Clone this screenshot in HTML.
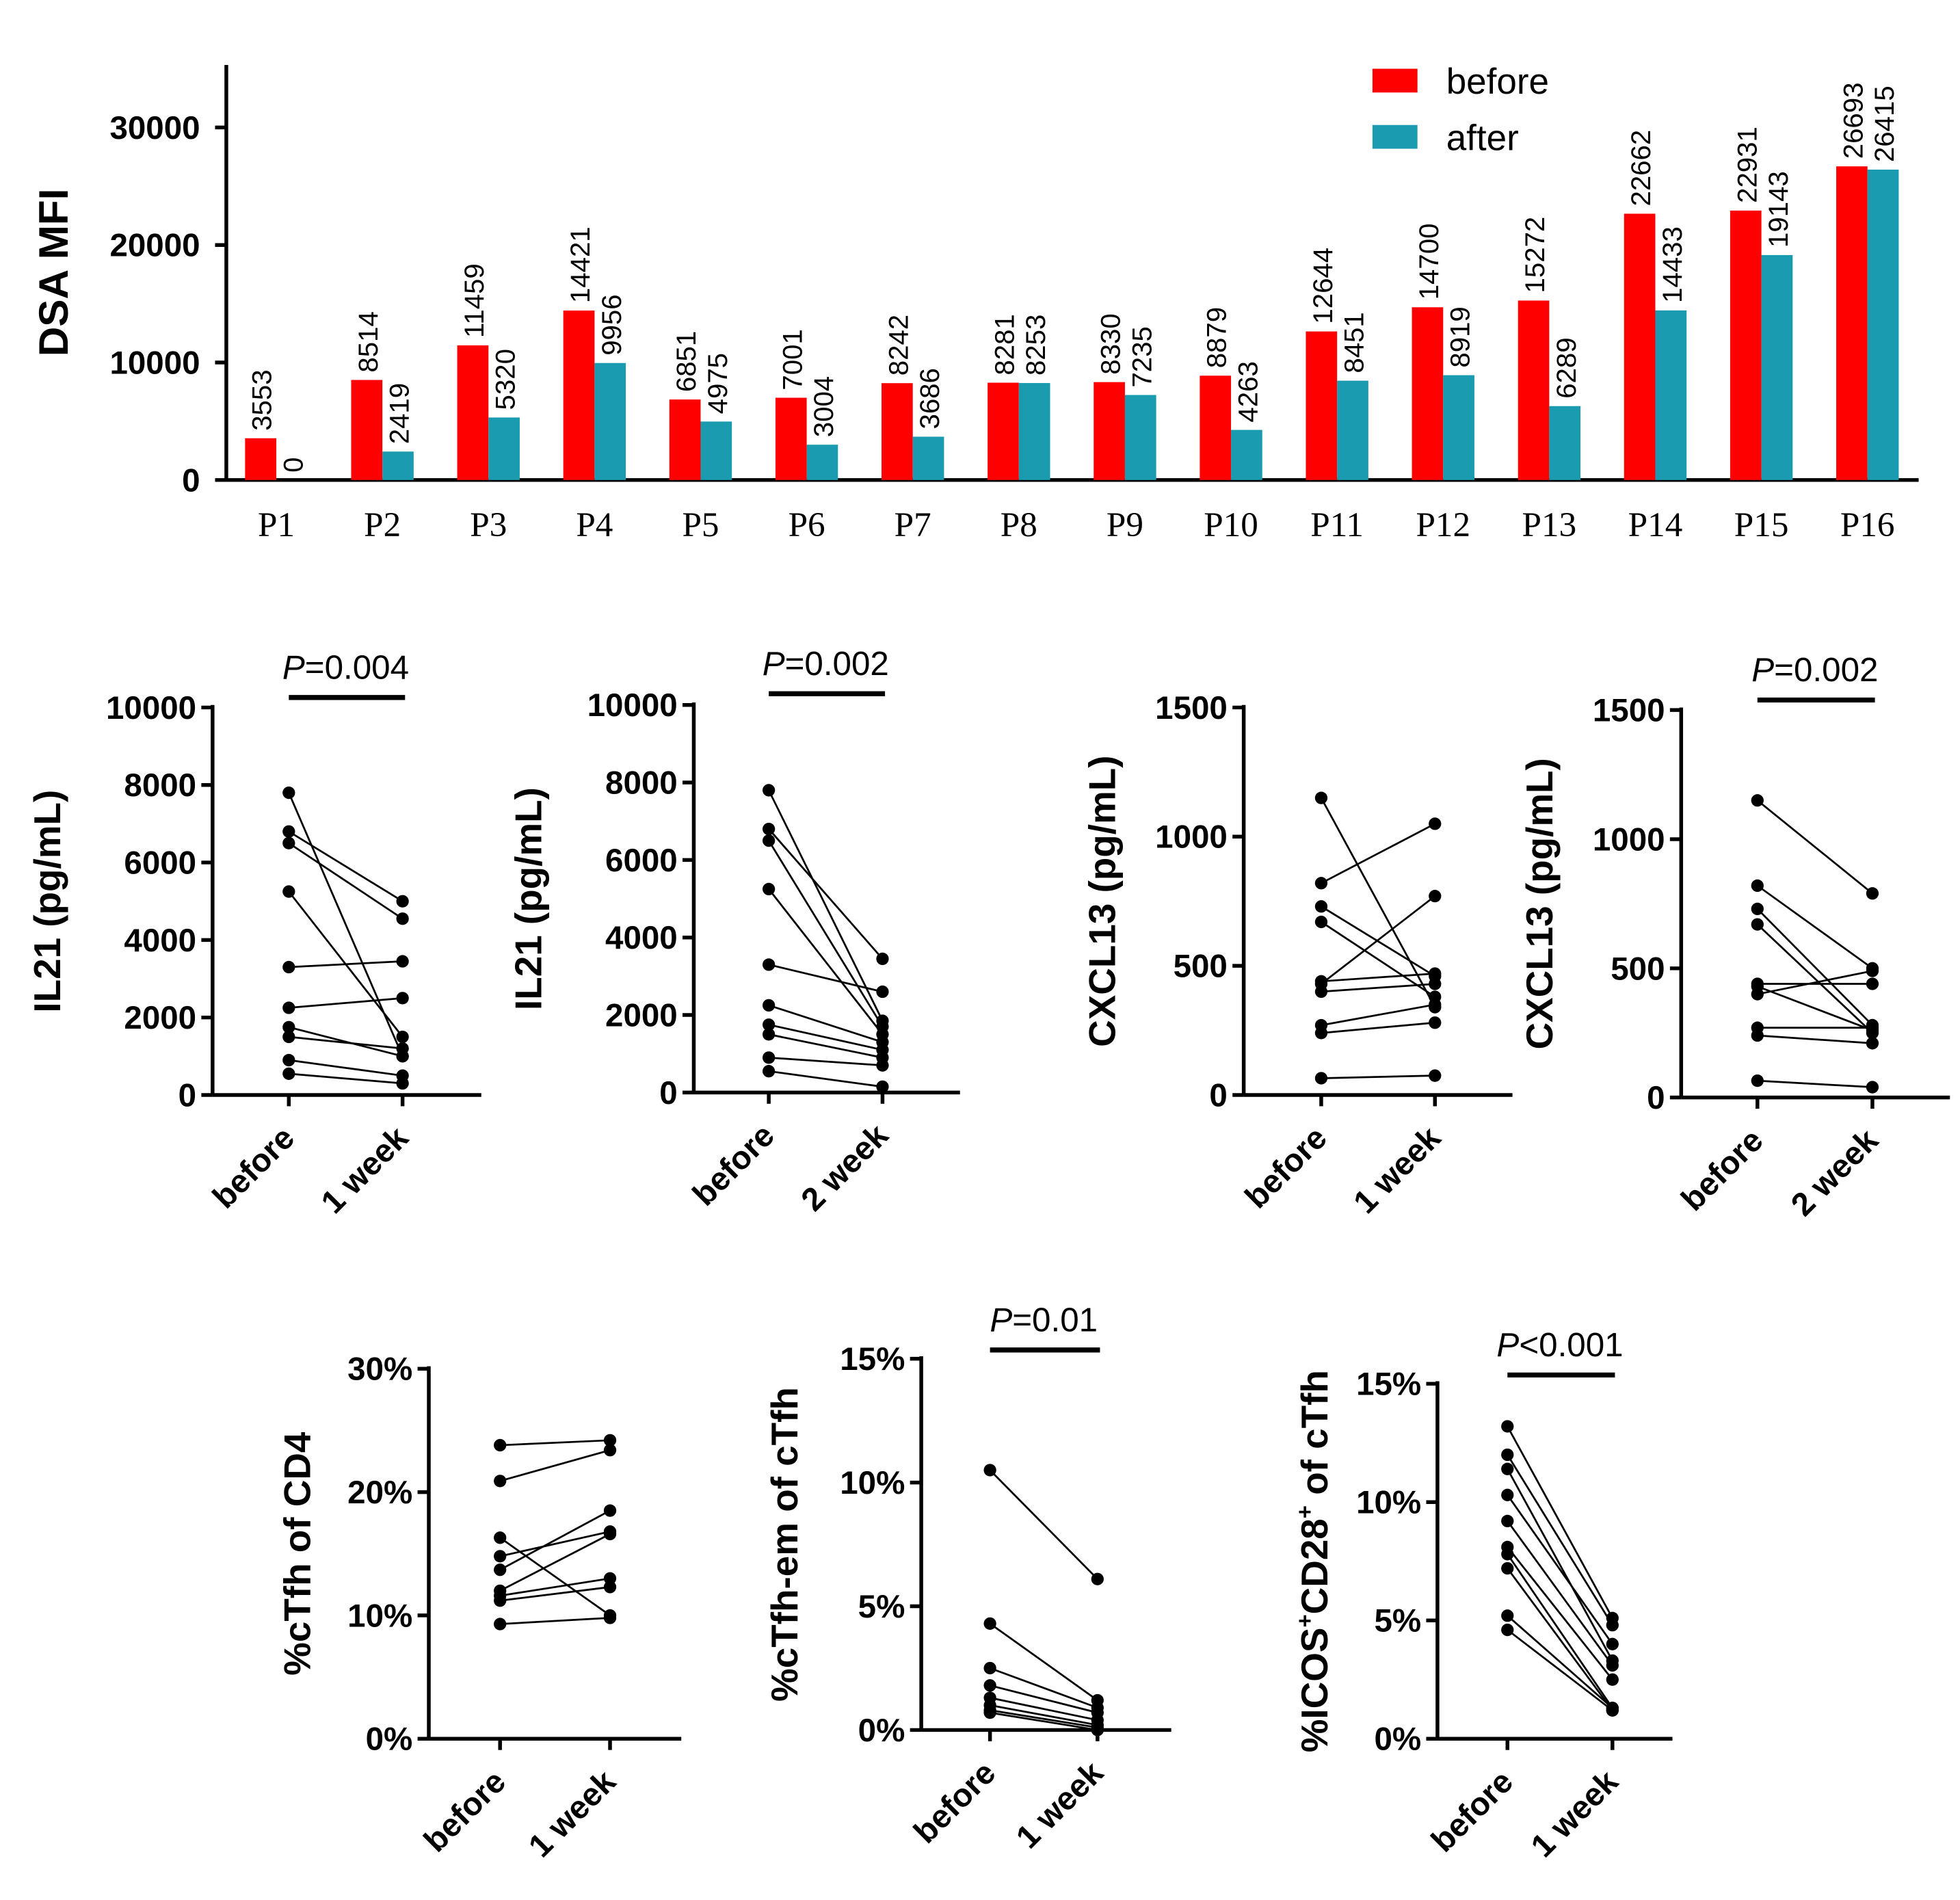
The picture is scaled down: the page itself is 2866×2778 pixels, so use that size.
<!DOCTYPE html>
<html><head><meta charset="utf-8"><style>
html,body{margin:0;padding:0;background:#fff}
svg{display:block}
text{font-family:"Liberation Sans",Arial,sans-serif}
</style></head><body>
<svg id="c" width="2866" height="2778" viewBox="0 0 1568 1520" xmlns="http://www.w3.org/2000/svg"></svg>
<script>
// ---- Top bar chart data ----
const patients = ["P1","P2","P3","P4","P5","P6","P7","P8","P9","P10","P11","P12","P13","P14","P15","P16"];
const beforeMFI = [3553,8514,11459,14421,6851,7001,8242,8281,8330,8879,12644,14700,15272,22662,22931,26693];
const afterMFI = [0,2419,5320,9956,4975,3004,3686,8253,7235,4263,8451,8919,6289,14433,19143,26415];
const mfiTicks = [0,10000,20000,30000];

// ---- Paired panels data ----
const il21Before = [7800,6800,6500,5250,3300,2250,1750,1500,900,550];
const il21After1w = [1000,5000,4550,1500,3450,2500,1000,1200,500,300];
const il21After2w = [1850,3450,1700,1500,2600,1300,1100,900,700,150];
const cxclBefore = [1150,820,730,670,440,430,400,270,240,65];
const cxclAfter1w = [340,1050,460,380,470,770,430,350,280,75];
const cxclAfter2w = [790,500,280,250,440,260,490,270,210,40];
const tfhBefore = [23.8,20.9,16.3,14.8,13.7,12.0,11.6,11.2,9.3];
const tfhAfter = [24.2,23.4,10.0,16.8,18.5,16.6,13.0,12.3,9.8];
const emBefore = [10.5,4.3,2.5,1.8,1.3,1.0,0.8,0.7];
const emAfter = [6.1,1.2,0.9,0.7,0.4,0.2,0.1,0.0];
const icosBefore = [13.2,12.0,11.4,10.3,9.2,8.1,7.8,7.2,5.2,4.6];
const icosAfter = [5.1,4.8,3.3,4.0,3.1,2.5,1.3,1.2,1.3,1.2];

const NS="http://www.w3.org/2000/svg";
const svg=document.getElementById('c');
function el(tag,attrs,parent){const e=document.createElementNS(NS,tag);for(const k in attrs)e.setAttribute(k,attrs[k]);(parent||svg).appendChild(e);return e;}
function txt(s,attrs,parent){const t=el('text',attrs,parent);t.textContent=s;return t;}

// ---- Top chart ----
const topG=el('g',{});


const y0=384, yPer=(384-102)/30000;
const yM=v=>y0-v*yPer;
const xC=i=>221+i*84.87;
const bw=25;
let a=el('line',{x1:181,y1:52,x2:181,y2:y0,stroke:'#000','stroke-width':3},topG);

a=el('line',{x1:181,y1:y0,x2:1535,y2:y0,stroke:'#000','stroke-width':3},topG);

mfiTicks.forEach(v=>{
  el('line',{x1:172,y1:yM(v),x2:181,y2:yM(v),stroke:'#000','stroke-width':3},topG);
  const t=txt(String(v),{x:160,y:yM(v)+9,'text-anchor':'end','font-size':26,'font-weight':'bold'},topG);
  
});
let yt=txt('DSA MFI',{x:0,y:0,'font-size':33,'font-weight':'bold','text-anchor':'middle',transform:'translate(54,218) rotate(-90)'},topG);

patients.forEach((p,i)=>{
  const c=xC(i);
  let r=el('rect',{x:c-bw,y:yM(beforeMFI[i]),width:bw,height:beforeMFI[i]*yPer,fill:'#ff0000'},topG);
  
  r=el('rect',{x:c,y:yM(afterMFI[i]),width:bw,height:afterMFI[i]*yPer,fill:'#1a9bb0'},topG);
  
  let t=txt(String(beforeMFI[i]),{x:0,y:0,'font-size':22,transform:`translate(${c-4},${yM(beforeMFI[i])-6}) rotate(-90)`},topG);
  
  t=txt(String(afterMFI[i]),{x:0,y:0,'font-size':22,transform:`translate(${c+21},${yM(afterMFI[i])-6}) rotate(-90)`},topG);
  
  t=txt(p,{x:c,y:429,'text-anchor':'middle','font-size':28,style:'font-family:"Liberation Serif",serif'},topG);
  
});
let lg=el('rect',{x:1098,y:55,width:36,height:19,fill:'#ff0000'},topG);

lg=txt('before',{x:1157,y:75,'font-size':29},topG);

lg=el('rect',{x:1098,y:100,width:36,height:19,fill:'#1a9bb0'},topG);

lg=txt('after',{x:1157,y:120,'font-size':29},topG);


// ---- Paired panels ----
function panel(o){
  const g=el('g',{});
  
  
  const ys=v=>o.y0-(v/o.max)*(o.y0-o.yTop);
  let l=el('line',{x1:o.ax,y1:o.yTop-2,x2:o.ax,y2:o.y0,stroke:'#000','stroke-width':3},g);
  
  l=el('line',{x1:o.ax,y1:o.y0,x2:o.xEnd,y2:o.y0,stroke:'#000','stroke-width':3},g);
  
  o.ticks.forEach((v,k)=>{
    el('line',{x1:o.ax-9,y1:ys(v),x2:o.ax,y2:ys(v),stroke:'#000','stroke-width':3},g);
    const t=txt(o.tickLabels[k],{x:o.ax-13,y:ys(v)+9,'text-anchor':'end','font-size':26,'font-weight':'bold'},g);
    
  });
  [o.bx,o.axx].forEach(x=>el('line',{x1:x,y1:o.y0,x2:x,y2:o.y0+9,stroke:'#000','stroke-width':3},g));
  let t=txt('before',{x:0,y:0,'font-size':26,'font-weight':'bold','text-anchor':'end',transform:`translate(${o.bx+6},${o.y0+36}) rotate(-45)`},g);
  
  t=txt(o.afterLabel,{x:0,y:0,'font-size':26,'font-weight':'bold','text-anchor':'end',transform:`translate(${o.axx+6},${o.y0+36}) rotate(-45)`},g);
  
  t=el('text',{x:0,y:0,'font-size':30,'font-weight':'bold','text-anchor':'middle',transform:`translate(${o.titleX},${(o.y0+o.yTop)/2}) rotate(-90)`},g);
  t.innerHTML=o.title;
  
  o.before.forEach((b,i)=>{
    const av=o.after[i];
    const ln=el('line',{x1:o.bx,y1:ys(b),x2:o.axx,y2:ys(av),stroke:'#000','stroke-width':1.5},g);
    
    let p=el('circle',{cx:o.bx,cy:ys(b),r:5,fill:'#000'},g);
    
    p=el('circle',{cx:o.axx,cy:ys(av),r:5,fill:'#000'},g);
    
  });
  if(o.p){
    const cx=(o.bx+o.axx)/2;
    const pt=el('text',{x:cx,y:o.pY,'text-anchor':'middle','font-size':27},g);
    pt.innerHTML='<tspan font-style="italic">P</tspan>'+o.p;
    
    const bar=el('line',{x1:o.bx,y1:o.pY+15,x2:o.axx+2,y2:o.pY+15,stroke:'#000','stroke-width':4},g);
    
  }
}
const il21Ticks=[0,2000,4000,6000,8000,10000], il21Lab=['0','2000','4000','6000','8000','10000'];
const cxTicks=[0,500,1000,1500], cxLab=['0','500','1000','1500'];
panel({name:'il21-1week-panel',ax:170,y0:876,yTop:566,max:10000,xEnd:385,bx:231,axx:322,ticks:il21Ticks,tickLabels:il21Lab,before:il21Before,after:il21After1w,afterLabel:'1 week',title:'IL21 (pg/mL)',titleX:48,p:'=0.004',pY:543});
panel({name:'il21-2week-panel',ax:555,y0:874,yTop:564,max:10000,xEnd:768,bx:615,axx:706,ticks:il21Ticks,tickLabels:il21Lab,before:il21Before,after:il21After2w,afterLabel:'2 week',title:'IL21 (pg/mL)',titleX:433,p:'=0.002',pY:540});
panel({name:'cxcl13-1week-panel',ax:995,y0:876,yTop:566,max:1500,xEnd:1210,bx:1057,axx:1148,ticks:cxTicks,tickLabels:cxLab,before:cxclBefore,after:cxclAfter1w,afterLabel:'1 week',title:'CXCL13 (pg/mL)',titleX:892});
panel({name:'cxcl13-2week-panel',ax:1345,y0:878,yTop:568,max:1500,xEnd:1560,bx:1406,axx:1498,ticks:cxTicks,tickLabels:cxLab,before:cxclBefore,after:cxclAfter2w,afterLabel:'2 week',title:'CXCL13 (pg/mL)',titleX:1242,p:'=0.002',pY:545});
panel({name:'ctfh-panel',ax:343,y0:1391,yTop:1095,max:30,xEnd:545,bx:400,axx:488,ticks:[0,10,20,30],tickLabels:['0%','10%','20%','30%'],before:tfhBefore,after:tfhAfter,afterLabel:'1 week',title:'%cTfh of CD4',titleX:248});
panel({name:'ctfh-em-panel',ax:737,y0:1384,yTop:1087,max:15,xEnd:937,bx:792,axx:878,ticks:[0,5,10,15],tickLabels:['0%','5%','10%','15%'],before:emBefore,after:emAfter,afterLabel:'1 week',title:'%cTfh-em of cTfh',titleX:638,p:'=0.01',pY:1065});
panel({name:'icos-cd28-panel',ax:1150,y0:1391,yTop:1107,max:15,xEnd:1338,bx:1206,axx:1290,ticks:[0,5,10,15],tickLabels:['0%','5%','10%','15%'],before:icosBefore,after:icosAfter,afterLabel:'1 week',title:'%ICOS<tspan font-size="18" dy="-12">+</tspan><tspan dy="12">CD28</tspan><tspan font-size="18" dy="-12">+</tspan><tspan dy="12">  of cTfh</tspan>',titleX:1062,p:'<0.001',pY:1085});
</script>
</body></html>
